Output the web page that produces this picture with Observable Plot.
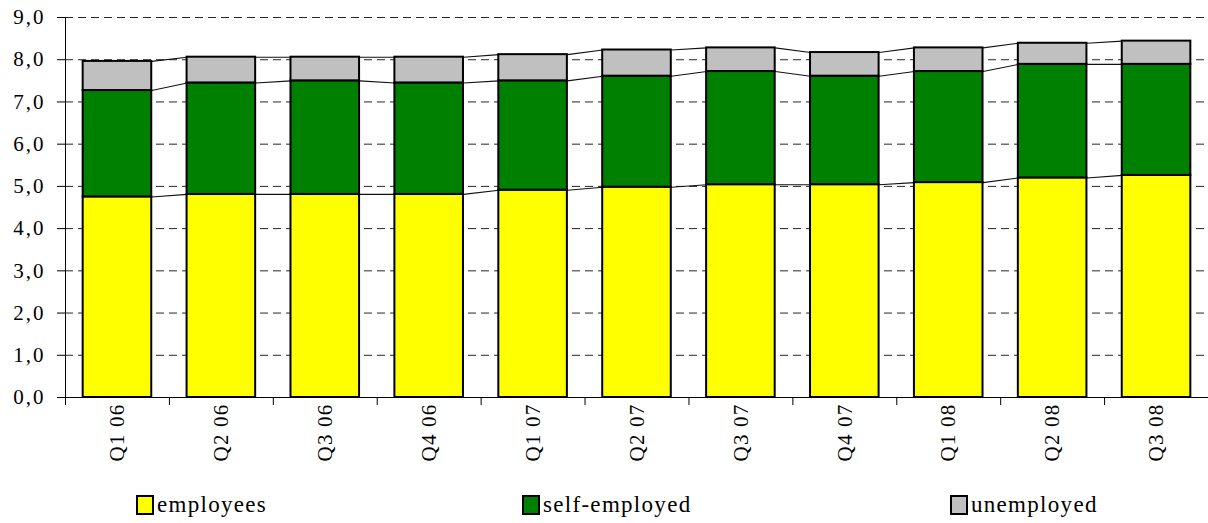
<!DOCTYPE html>
<html>
<head>
<meta charset="utf-8">
<script src="https://cdn.jsdelivr.net/npm/d3@7"></script>
<script src="https://cdn.jsdelivr.net/npm/@observablehq/plot@0.6"></script>
<style>
  html, body { margin: 0; padding: 0; background: #fff; }
  #wrap { position: relative; width: 1208px; height: 523px; font-family: "Liberation Serif", "Times New Roman", serif; }
  #chart svg text { font-family: "Liberation Serif", "Times New Roman", serif; font-size: 21px; fill: #000; }
  #chart svg g[aria-label="y-axis tick label"] text { letter-spacing: 2px; }
  #chart svg g[aria-label="x-axis tick label"] text { letter-spacing: 1.2px; }
  #legend { position: absolute; left: 0; top: 492px; width: 1208px; height: 30px; }
  .item { position: absolute; top: 0; display: flex; align-items: center; font-size: 23px; letter-spacing: 1.3px; color: #000; }
  .sw { width: 14px; height: 16px; border: 2px solid #000; margin-right: 3px; }
</style>
</head>
<body>
<div id="wrap"><div id="chart"></div><div id="legend"></div></div>
<script>
const categories = ["Q1 06","Q2 06","Q3 06","Q4 06","Q1 07","Q2 07","Q3 07","Q4 07","Q1 08","Q2 08","Q3 08"];
const seriesNames = ["employees","self-employed","unemployed"];
const seriesColors = ["#FFFF00","#008000","#C0C0C0"];
const employees    = [4.75, 4.81, 4.81, 4.81, 4.91, 4.98, 5.04, 5.04, 5.09, 5.20, 5.26];
const selfEmployed = [2.52, 2.64, 2.69, 2.64, 2.59, 2.63, 2.68, 2.57, 2.63, 2.69, 2.63];
const unemployed   = [0.69, 0.61, 0.56, 0.61, 0.62, 0.62, 0.56, 0.56, 0.56, 0.50, 0.55];
const yTicks = [0,1,2,3,4,5,6,7,8,9];

const seriesValues = [employees, selfEmployed, unemployed];
const halfBar = 0.33;

const rects = [];
const levels = seriesNames.map(() => []);
categories.forEach((c, i) => {
  let base = 0;
  seriesNames.forEach((s, k) => {
    const v = seriesValues[k][i];
    rects.push({i, series: s, y1: base, y2: base + v});
    base += v;
    levels[k].push(base);
  });
});
const links = [];
levels.forEach(lv => {
  for (let i = 0; i < lv.length - 1; i++) {
    links.push({x1: i + halfBar, x2: i + 1 - halfBar, y1: lv[i], y2: lv[i + 1]});
  }
});
const idx = categories.map((c, i) => i);
const bounds = d3.range(-0.5, categories.length, 1);

const fmt = d => d.toFixed(1).replace(".", ",");

const plot = Plot.plot({
  width: 1208,
  height: 485,
  marginTop: 17,
  marginBottom: 88,
  marginLeft: 65,
  marginRight: 0,
  style: {fontFamily: "'Liberation Serif', 'Times New Roman', serif", background: "#fff"},
  x: {type: "linear", domain: [-0.5, categories.length - 0.5]},
  y: {domain: [0, 9]},
  color: {domain: seriesNames, range: seriesColors},
  marks: [
    Plot.ruleY(yTicks.filter(t => t > 0), {stroke: "#000", strokeWidth: 1, strokeDasharray: "8,5", strokeOpacity: 0.85}),
    Plot.link(links, {x1: "x1", x2: "x2", y1: "y1", y2: "y2", stroke: "#111", strokeWidth: 1.1}),
    Plot.rect(rects, {x1: d => d.i - halfBar, x2: d => d.i + halfBar, y1: "y1", y2: "y2", fill: "series", stroke: "#000", strokeWidth: 2}),
    Plot.axisY({ticks: yTicks, tickFormat: fmt, tickSize: 8, tickPadding: 12, stroke: "#000", strokeOpacity: 1}),
    Plot.ruleX([-0.5], {y1: 0, y2: 9, stroke: "#000"}),
    Plot.ruleY([0], {stroke: "#000"}),
    Plot.axisX({ticks: bounds, tickFormat: () => "", tickSize: 8, stroke: "#000", strokeOpacity: 1}),
    Plot.axisX({ticks: idx, tickFormat: i => categories[i], tickSize: 0, tickPadding: 6, tickRotate: -90})
  ]
});
document.getElementById("chart").appendChild(plot);

const legendPos = [136, 522, 950];
const legend = document.getElementById("legend");
seriesNames.forEach((s, k) => {
  const it = document.createElement("div");
  it.className = "item";
  it.style.left = legendPos[k] + "px";
  const sw = document.createElement("div");
  sw.className = "sw";
  sw.style.background = seriesColors[k];
  const tx = document.createElement("span");
  tx.textContent = s;
  it.appendChild(sw);
  it.appendChild(tx);
  legend.appendChild(it);
});
</script>
</body>
</html>
